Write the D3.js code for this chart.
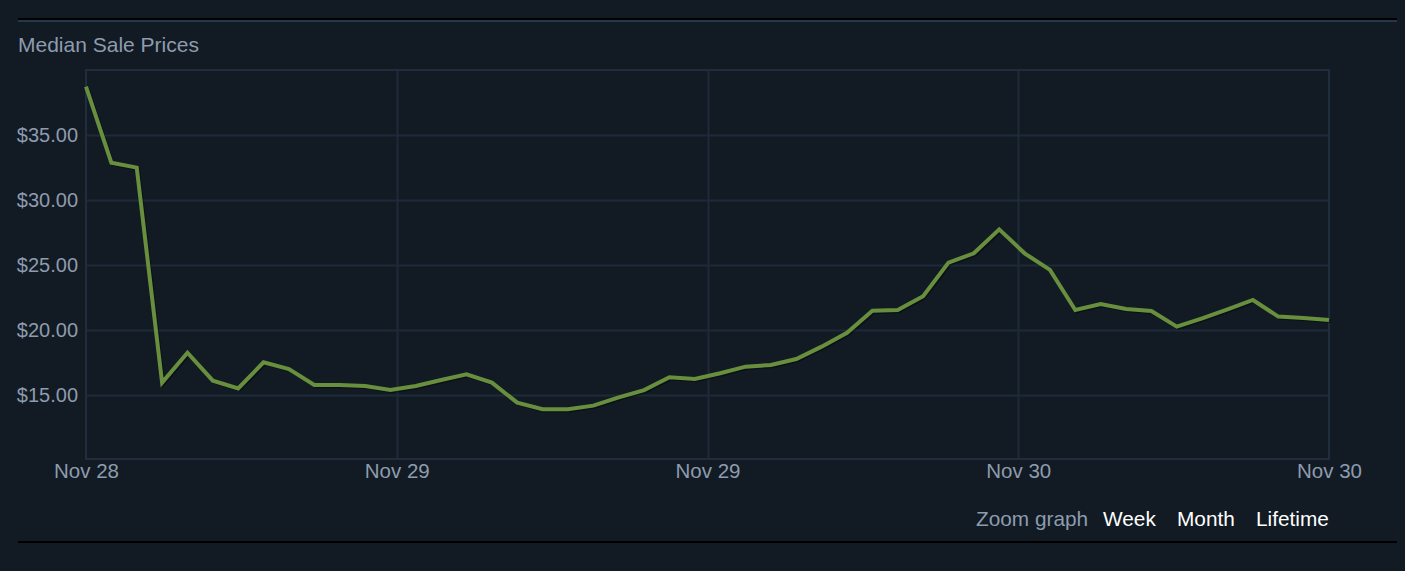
<!DOCTYPE html>
<html>
<head>
<meta charset="utf-8">
<script src="https://cdn.jsdelivr.net/npm/d3@7/dist/d3.min.js"></script>
<style>
  html, body { margin: 0; padding: 0; background: #121a23; }
  svg { display: block; }
  text { font-family: Arial, "Liberation Sans", sans-serif; }
</style>
</head>
<body>
<svg id="chart" width="1405" height="571"></svg>
<script>
// ---- data ----
const prices = [38.72, 32.87, 32.49, 15.95, 18.25, 16.10, 15.51, 17.52, 17.00, 15.77,
                15.77, 15.69, 15.38, 15.69, 16.15, 16.59, 15.95, 14.41, 13.90, 13.90,
                14.18, 14.82, 15.38, 16.36, 16.23, 16.67, 17.18, 17.31, 17.77, 18.72,
                19.79, 21.48, 21.54, 22.60, 25.18, 25.90, 27.74, 25.90, 24.62, 21.54,
                22.00, 21.62, 21.46, 20.26, 20.90, 21.59, 22.31, 21.03, 20.92, 20.77];
const xTickPositions = [0, 12.25, 24.5, 36.75, 49];
const xTickLabels = ["Nov 28", "Nov 29", "Nov 29", "Nov 30", "Nov 30"];
const yTickValues = [15, 20, 25, 30, 35];
const yDomain = [10, 40];
const zoomLabels = ["Week", "Month", "Lifetime"];

// ---- layout ----
const svg = d3.select("#chart");
const W = 1405, H = 571;
const plot = { left: 86, right: 1329, top: 70, bottom: 460 };
const labelColor = "#8d9cae";

svg.append("rect").attr("width", W).attr("height", H).attr("fill", "#121a23");

// top rules
svg.append("rect").attr("x", 18).attr("y", 18).attr("width", 1379).attr("height", 2).attr("fill", "#000000");
svg.append("rect").attr("x", 18).attr("y", 20).attr("width", 1379).attr("height", 2).attr("fill", "#27364a");
// bottom rule
svg.append("rect").attr("x", 18).attr("y", 541).attr("width", 1379).attr("height", 2).attr("fill", "#000000");

// title
svg.append("text").attr("x", 18).attr("y", 52)
  .attr("fill", labelColor).attr("font-size", 21).text("Median Sale Prices");

const x = d3.scaleLinear().domain([0, prices.length - 1]).range([plot.left, plot.right]);
const y = d3.scaleLinear().domain(yDomain).range([plot.bottom, plot.top]);

// grid
const gridColor = "#1d2a3a";
const g = svg.append("g");
g.selectAll("line.hg").data(yTickValues).join("line")
  .attr("x1", plot.left).attr("x2", plot.right)
  .attr("y1", d => Math.round(y(d)) + 0.5).attr("y2", d => Math.round(y(d)) + 0.5)
  .attr("stroke", gridColor).attr("stroke-width", 2);
g.selectAll("line.vg").data(xTickPositions.slice(1, -1)).join("line")
  .attr("y1", plot.top).attr("y2", plot.bottom)
  .attr("x1", d => Math.round(x(d)) + 0.5).attr("x2", d => Math.round(x(d)) + 0.5)
  .attr("stroke", gridColor).attr("stroke-width", 2);
// border
g.append("rect").attr("x", plot.left).attr("y", plot.top)
  .attr("width", plot.right - plot.left).attr("height", plot.bottom - plot.top - 1)
  .attr("fill", "none").attr("stroke", "#1f2d3f").attr("stroke-width", 2);

// y axis
const yAxis = d3.axisLeft(y).tickValues(yTickValues).tickSize(0).tickPadding(8)
  .tickFormat(d => "$" + d3.format(".2f")(d));
const ya = svg.append("g").attr("transform", `translate(${plot.left},0)`).call(yAxis);
ya.select(".domain").remove();
ya.selectAll("text").attr("fill", labelColor).attr("font-size", 20)
  .attr("font-family", "Arial, 'Liberation Sans', sans-serif");

// x axis
const xAxis = d3.axisBottom(x).tickValues(xTickPositions).tickSize(0).tickPadding(3)
  .tickFormat((d, i) => xTickLabels[i]);
const xa = svg.append("g").attr("transform", `translate(0,${plot.bottom})`).call(xAxis);
xa.select(".domain").remove();
xa.selectAll("text").attr("fill", labelColor).attr("font-size", 20.5)
  .attr("font-family", "Arial, 'Liberation Sans', sans-serif");

// line
const line = d3.line().x((d, i) => x(i)).y(d => y(d));
svg.append("path").datum(prices).attr("d", line)
  .attr("fill", "none").attr("stroke", "rgba(0,0,0,0.35)").attr("stroke-width", 3.5)
  .attr("stroke-linejoin", "miter").attr("transform", "translate(1.5,1.5)");
svg.append("path").datum(prices).attr("d", line)
  .attr("fill", "none").attr("stroke", "#688f3e").attr("stroke-width", 4)
  .attr("stroke-linejoin", "miter");

// zoom controls
svg.append("text").attr("x", 976).attr("y", 526).attr("fill", labelColor)
  .attr("font-size", 20.8).text("Zoom graph");
const zoomX = [1103, 1177, 1256];
svg.selectAll("text.zl").data(zoomLabels).join("text")
  .attr("class", "zl").attr("x", (d, i) => zoomX[i]).attr("y", 526)
  .attr("fill", "#ffffff").attr("font-size", 20.8).text(d => d);
</script>
</body>
</html>
